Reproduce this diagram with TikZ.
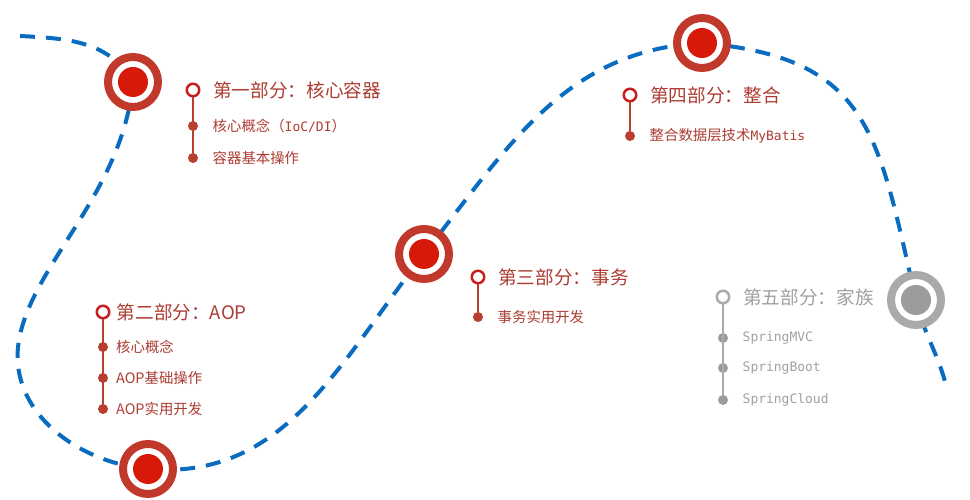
\documentclass[tikz,border=0pt]{standalone}
\usepackage{fontspec}
\setmainfont{Noto Sans CJK SC}
\newfontfamily\codefont{DejaVu Sans Mono}[Scale=0.9]
\usetikzlibrary{positioning}
\definecolor{routeblue}{RGB}{10,108,192}
\definecolor{ringred}{RGB}{192,57,43}
\definecolor{dotred}{RGB}{215,25,10}
\definecolor{headred}{RGB}{200,30,30}
\definecolor{itemred}{RGB}{185,62,48}
\definecolor{textred}{RGB}{172,60,50}
\definecolor{ringgrey}{RGB}{170,170,170}
\definecolor{dotgrey}{RGB}{155,155,155}
\definecolor{textgrey}{RGB}{160,160,160}
\tikzset{node distance = 0.3cm}

\begin{document}
\begin{tikzpicture}[x=0.02cm, y=0.02cm,
route/.style={draw=routeblue, line width=0.08cm, dash pattern=on 0.3cm off 0.22cm},
big_ring/.style 2 args={circle, draw=#1, line width=0.16cm, fill=white, minimum size=1cm, inner sep=0pt, path picture={\fill[#2] (path picture bounding box.center) circle (0.3cm);}},
head_dot/.style={circle, draw=#1, line width=0.05cm, fill=white, minimum size=0.25cm, inner sep=0pt},
item_dot/.style={circle, fill=#1, minimum size=0.2cm, inner sep=0pt, on grid},
stem/.style={draw=#1, line width=0.05cm},
head_text/.style={text=#1, inner sep=0pt, font=\fontsize{10.6pt}{12pt}\selectfont},
item_text/.style={text=#1, inner sep=0pt, font=\fontsize{8.2pt}{10pt}\selectfont}]
    \useasboundingbox (0,0) rectangle (970,500);

    % stations on the route
    \coordinate (p1) at (133,418);
    \coordinate (p2) at (148,31);
    \coordinate (p3) at (424,246);
    \coordinate (p4) at (702,457);
    \coordinate (p5) at (916,200);
    \coordinate (start) at (20,464);
    \coordinate (bend) at (19,160);
    \coordinate (tail) at (946,115);

    \draw[route] (start) to[out=-3,in=120] (p1) to[out=-95,in=80,in looseness=0.7] (bend)
        to[out=-100,in=175] (p2) to[out=-5,in=232] (p3) to[out=52,in=183] (p4)
        to[out=-5,in=103,looseness=1.3] (p5) to[out=-77,in=105] (tail);

    \node[big_ring={ringred}{dotred}] (core) at (p1) {};
    \node[big_ring={ringred}{dotred}] (aop) at (p2) {};
    \node[big_ring={ringred}{dotred}] (tx) at (p3) {};
    \node[big_ring={ringred}{dotred}] (merge) at (p4) {};
    \node[big_ring={ringgrey}{dotgrey}] (family) at (p5) {};

    % part one
    \node[head_dot=headred] (core_head) at (193,410) {};
    \node[item_dot=itemred, below=0.72cm of core_head] (core_a) {};
    \node[item_dot=itemred, below=0.64cm of core_a] (core_b) {};
    \draw[stem=itemred] (core_head) -- (core_b);
    \node[head_text=textred, right=0.25cm of core_head] {第一部分：核心容器};
    \node[item_text=textred, right=0.28cm of core_a] {核心概念（{\codefont IoC/DI}）};
    \node[item_text=textred, right=0.28cm of core_b] {容器基本操作};

    % part two
    \node[head_dot=headred] (aop_head) at (103,188) {};
    \node[item_dot=itemred, below=0.7cm of aop_head] (aop_a) {};
    \node[item_dot=itemred, below=0.62cm of aop_a] (aop_b) {};
    \node[item_dot=itemred, below=0.62cm of aop_b] (aop_c) {};
    \draw[stem=itemred] (aop_head) -- (aop_c);
    \node[head_text=textred, right=0.12cm of aop_head] {第二部分：AOP};
    \node[item_text=textred, right=0.15cm of aop_a] {核心概念};
    \node[item_text=textred, right=0.15cm of aop_b] {AOP基础操作};
    \node[item_text=textred, right=0.15cm of aop_c] {AOP实用开发};

    % part three
    \node[head_dot=headred] (tx_head) at (478,223) {};
    \node[item_dot=itemred, below=0.8cm of tx_head] (tx_a) {};
    \draw[stem=itemred] (tx_head) -- (tx_a);
    \node[head_text=textred, right=0.25cm of tx_head] {第三部分：事务};
    \node[item_text=textred, right=0.28cm of tx_a] {事务实用开发};

    % part four
    \node[head_dot=headred] (merge_head) at (630,405) {};
    \node[item_dot=itemred, below=0.82cm of merge_head] (merge_a) {};
    \draw[stem=itemred] (merge_head) -- (merge_a);
    \node[head_text=textred, right=0.25cm of merge_head] {第四部分：整合};
    \node[item_text=textred, right=0.28cm of merge_a] {整合数据层技术{\codefont MyBatis}};

    % part five
    \node[head_dot=ringgrey] (family_head) at (723,203) {};
    \node[item_dot=dotgrey, below=0.82cm of family_head] (family_a) {};
    \node[item_dot=dotgrey, below=0.6cm of family_a] (family_b) {};
    \node[item_dot=dotgrey, below=0.64cm of family_b] (family_c) {};
    \draw[stem=ringgrey] (family_head) -- (family_c);
    \node[head_text=textgrey, right=0.25cm of family_head] {第五部分：家族};
    \node[item_text=textgrey, right=0.28cm of family_a] {\codefont SpringMVC};
    \node[item_text=textgrey, right=0.28cm of family_b] {\codefont SpringBoot};
    \node[item_text=textgrey, right=0.28cm of family_c] {\codefont SpringCloud};
\end{tikzpicture}
\end{document}
